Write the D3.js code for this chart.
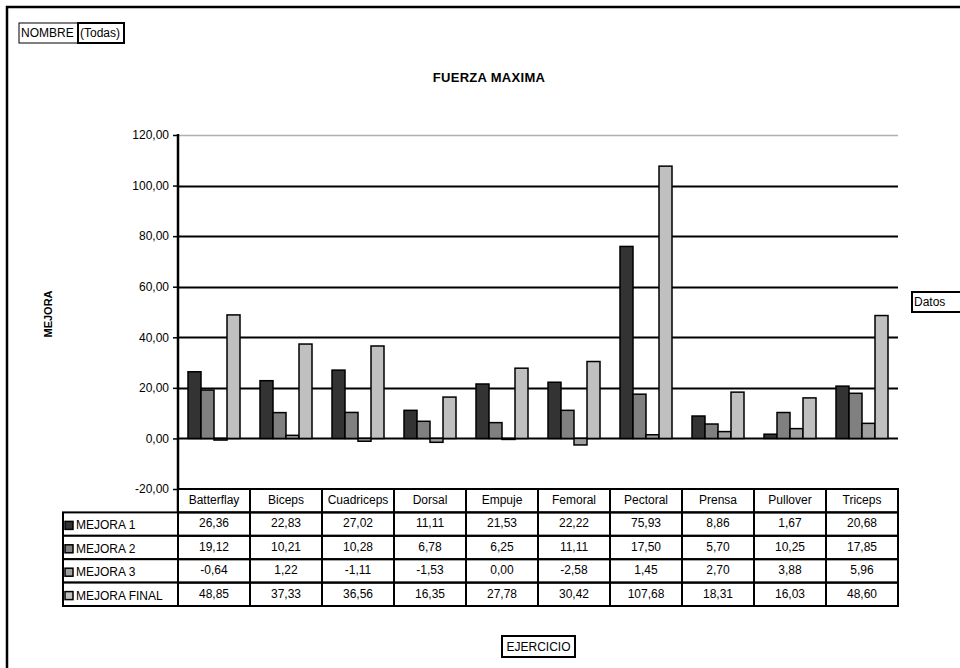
<!DOCTYPE html>
<html>
<head>
<meta charset="utf-8">
<script src="https://cdn.jsdelivr.net/npm/d3@7"></script>
<style>
  html, body { margin: 0; padding: 0; background: #fff; }
  svg { display: block; font-family: "Liberation Sans", Arial, sans-serif; }
</style>
</head>
<body>
<svg id="chart" width="960" height="668"></svg>
<script>
// Exercises (categories) and improvement series
const ejercicios = ["Batterflay", "Biceps", "Cuadriceps", "Dorsal", "Empuje", "Femoral", "Pectoral", "Prensa", "Pullover", "Triceps"];
const series = ["MEJORA 1", "MEJORA 2", "MEJORA 3", "MEJORA FINAL"];
const mejora1 = [26.36, 22.83, 27.02, 11.11, 21.53, 22.22, 75.93, 8.86, 1.67, 20.68];
const mejora2 = [19.12, 10.21, 10.28, 6.78, 6.25, 11.11, 17.50, 5.70, 10.25, 17.85];
const mejora3 = [-0.64, 1.22, -1.11, -1.53, 0.00, -2.58, 1.45, 2.70, 3.88, 5.96];
const mejoraFinal = [48.85, 37.33, 36.56, 16.35, 27.78, 30.42, 107.68, 18.31, 16.03, 48.60];
const yTicks = [-20, 0, 20, 40, 60, 80, 100, 120];
const seriesColors = ["#333333", "#808080", "#a0a0a0", "#c0c0c0"];

const values = [mejora1, mejora2, mejora3, mejoraFinal];
const locale = d3.formatLocale({ decimal: ",", thousands: ".", grouping: [3], currency: ["", ""], minus: "-" });
const fmt = locale.format(".2f");

const svg = d3.select("#chart");
const FS = 12;

// Outer frame (left and top edges visible)
svg.append("path")
  .attr("d", "M7,680 L7,7 L970,7")
  .attr("fill", "none").attr("stroke", "#000").attr("stroke-width", 2.5);

// Page field box
const pf = svg.append("g");
pf.append("rect").attr("x", 19).attr("y", 23).attr("width", 59).attr("height", 20)
  .attr("fill", "#fff").attr("stroke", "#000").attr("stroke-width", 1);
pf.append("rect").attr("x", 78).attr("y", 23).attr("width", 46).attr("height", 20)
  .attr("fill", "#fff").attr("stroke", "#000").attr("stroke-width", 2);
pf.append("text").attr("x", 21).attr("y", 37).attr("font-size", FS).text("NOMBRE");
pf.append("text").attr("x", 80).attr("y", 37).attr("font-size", FS).text("(Todas)");

// Title
svg.append("text").attr("x", 489).attr("y", 82).attr("text-anchor", "middle")
  .attr("font-size", 13).attr("font-weight", "bold").attr("letter-spacing", 0.3)
  .text("FUERZA MAXIMA");

// Scales
const x = d3.scaleBand().domain(ejercicios).range([178, 898]);
const xs = d3.scaleBand().domain(series).range([10, x.bandwidth() - 10]);
const y = d3.scaleLinear().domain([-20, 120]).range([489, 135]);

// Gridlines
svg.append("g").selectAll("line")
  .data(yTicks.filter(t => t > -20))
  .join("line")
  .attr("x1", 178).attr("x2", 898)
  .attr("y1", d => Math.round(y(d)) + 0.5).attr("y2", d => Math.round(y(d)) + 0.5)
  .attr("stroke", d => d === 120 ? "#b0b0b0" : "#000")
  .attr("stroke-width", d => d === 120 ? 1.5 : 2);

// Y axis
const yAxis = d3.axisLeft(y).tickValues(yTicks).tickSize(5).tickPadding(4)
  .tickFormat(fmt);
const ya = svg.append("g").attr("transform", "translate(178,0)").call(yAxis);
ya.select(".domain").remove();
ya.selectAll(".tick line").attr("stroke", "#000").attr("stroke-width", 1.5);
ya.selectAll(".tick text").attr("font-size", FS).attr("fill", "#000")
  .attr("font-family", "Liberation Sans, Arial, sans-serif");
svg.append("line").attr("x1", 178).attr("x2", 178).attr("y1", 134).attr("y2", 512)
  .attr("stroke", "#000").attr("stroke-width", 2.5);

// Y title
svg.append("text").attr("transform", "translate(52,314) rotate(-90)")
  .attr("text-anchor", "middle").attr("font-size", 11).attr("font-weight", "bold")
  .text("MEJORA");

// Bars
const bars = svg.append("g");
ejercicios.forEach((ej, i) => {
  series.forEach((s, k) => {
    const v = values[k][i];
    bars.append("rect")
      .attr("x", x(ej) + xs(s))
      .attr("y", Math.min(y(v), y(0)))
      .attr("width", xs.bandwidth())
      .attr("height", Math.max(Math.abs(y(v) - y(0)), 1))
      .attr("fill", seriesColors[k])
      .attr("stroke", "#000").attr("stroke-width", 1.5);
  });
});

// Data table
const rows = d3.scaleBand().domain(["header"].concat(series)).range([489, 606]);
const tbl = svg.append("g");
// header cells
ejercicios.forEach(ej => {
  tbl.append("rect").attr("x", x(ej)).attr("y", rows("header"))
    .attr("width", x.bandwidth()).attr("height", rows.bandwidth())
    .attr("fill", "#fff").attr("stroke", "#000").attr("stroke-width", 2);
  tbl.append("text").attr("x", x(ej) + x.bandwidth() / 2).attr("y", rows("header") + 15)
    .attr("text-anchor", "middle").attr("font-size", FS).text(ej);
});
// series rows
series.forEach((s, k) => {
  tbl.append("rect").attr("x", 63).attr("y", rows(s))
    .attr("width", 178 - 63).attr("height", rows.bandwidth())
    .attr("fill", "#fff").attr("stroke", "#000").attr("stroke-width", 2);
  tbl.append("rect").attr("x", 65).attr("y", rows(s) + 9)
    .attr("width", 8).attr("height", 8)
    .attr("fill", seriesColors[k]).attr("stroke", "#000").attr("stroke-width", 1.5);
  tbl.append("text").attr("x", 76).attr("y", rows(s) + 17)
    .attr("font-size", FS).text(s);
  ejercicios.forEach((ej, i) => {
    tbl.append("rect").attr("x", x(ej)).attr("y", rows(s))
      .attr("width", x.bandwidth()).attr("height", rows.bandwidth())
      .attr("fill", "none").attr("stroke", "#000").attr("stroke-width", 2);
    tbl.append("text").attr("x", x(ej) + x.bandwidth() / 2).attr("y", rows(s) + 15)
      .attr("text-anchor", "middle").attr("font-size", FS).text(fmt(values[k][i]));
  });
});

// Data field button
svg.append("rect").attr("x", 912).attr("y", 292).attr("width", 60).attr("height", 20)
  .attr("fill", "#fff").attr("stroke", "#000").attr("stroke-width", 2);
svg.append("text").attr("x", 914).attr("y", 306).attr("font-size", FS).text("Datos");

// Category field button
svg.append("rect").attr("x", 502).attr("y", 636).attr("width", 73).attr("height", 21)
  .attr("fill", "#fff").attr("stroke", "#000").attr("stroke-width", 2);
svg.append("text").attr("x", 538.5).attr("y", 651).attr("text-anchor", "middle")
  .attr("font-size", FS).text("EJERCICIO");
</script>
</body>
</html>
